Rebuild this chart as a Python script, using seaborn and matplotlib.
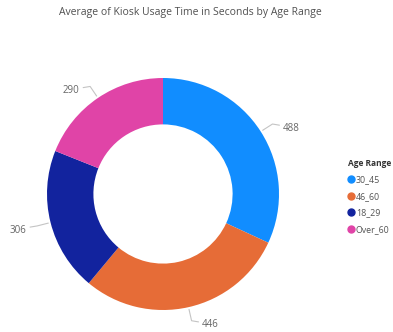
import numpy as np
import matplotlib
matplotlib.use("Agg")
import matplotlib.pyplot as plt
from matplotlib.lines import Line2D
import seaborn as sns

categories = ["30_45", "46_60", "18_29", "Over_60"]
values = [488, 446, 306, 290]
colors = ["#118DFF", "#E66C37", "#12239E", "#E044A7"]
title = "Average of Kiosk Usage Time in Seconds by Age Range"
legend_title = "Age Range"

sns.set_theme(style="white")
plt.rcParams["font.family"] = ["Open Sans", "DejaVu Sans"]

W, H = 393, 332
fig = plt.figure(figsize=(W / 100, H / 100), dpi=100)
cx, cy, R = 163, 194, 116
ax = fig.add_axes([(cx - R) / W, (H - cy - R) / H, 2 * R / W, 2 * R / H])

wedges, _ = ax.pie(values, colors=colors, startangle=90, counterclock=False,
                   radius=1.0, wedgeprops=dict(width=0.4, edgecolor="none"))
ax.set_xlim(-1, 1)
ax.set_ylim(-1, 1)
ax.set_aspect("equal")
ax.axis("off")

for w, v in zip(wedges, values):
    ang = np.deg2rad((w.theta1 + w.theta2) / 2)
    c, s = np.cos(ang), np.sin(ang)
    sgn = 1 if c >= 0 else -1
    p0 = (1.02 * c, 1.02 * s)
    p1 = (1.12 * c, 1.12 * s)
    p2 = (p1[0] + sgn * 0.06, p1[1] - 0.01)
    ax.plot([p0[0], p1[0], p2[0]], [p0[1], p1[1], p2[1]], color="#C4C4C4",
            lw=0.8, clip_on=False)
    ax.text(p2[0] + sgn * 0.03, p2[1] - 0.025, f"{v}", ha="left" if sgn > 0 else "right",
            va="center", fontsize=7, color="#666666", clip_on=False)

fig.text(0.485, 0.962, title, ha="center", va="center", fontsize=7.5, color="#505050")

handles = [Line2D([0], [0], marker="o", linestyle="none", markersize=5,
                  markerfacecolor=col, markeredgecolor=col) for col in colors]
leg = fig.legend(handles, categories, title=legend_title, loc="upper left",
                 bbox_to_anchor=(344 / W, 1 - 155 / H), frameon=False,
                 fontsize=6.4, title_fontsize=6.0, handletextpad=0.15,
                 labelspacing=0.85, handlelength=0.8, borderaxespad=0)
leg.get_title().set_fontweight("bold")
leg.get_title().set_color("#333333")
leg._legend_box.align = "left"
for t in leg.get_texts():
    t.set_color("#555555")

fig.savefig("out.png", dpi=100)
